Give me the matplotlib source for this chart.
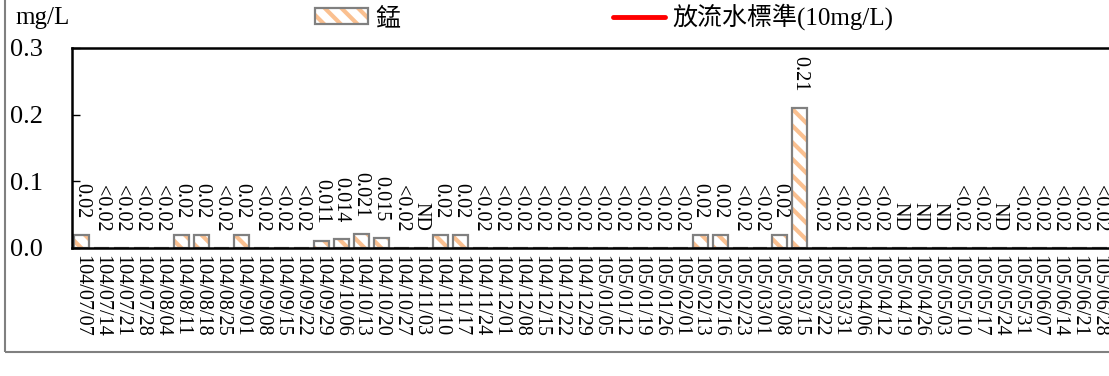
import numpy as np
import matplotlib
matplotlib.use("Agg")
import matplotlib.pyplot as plt
from matplotlib.patches import Rectangle
from matplotlib.legend_handler import HandlerTuple

plt.rcParams['font.family'] = ['Liberation Serif', 'Noto Sans CJK TC']
plt.rcParams['hatch.linewidth'] = 3.0

# 資料
dates = ["104/07/07", "104/07/14", "104/07/21", "104/07/28", "104/08/04", "104/08/11",
         "104/08/18", "104/08/25", "104/09/01", "104/09/08", "104/09/15", "104/09/22",
         "104/09/29", "104/10/06", "104/10/13", "104/10/20", "104/10/27", "104/11/03",
         "104/11/10", "104/11/17", "104/11/24", "104/12/01", "104/12/08", "104/12/15",
         "104/12/22", "104/12/29", "105/01/05", "105/01/12", "105/01/19", "105/01/26",
         "105/02/01", "105/02/13", "105/02/16", "105/02/23", "105/03/01", "105/03/08",
         "105/03/15", "105/03/22", "105/03/31", "105/04/06", "105/04/12", "105/04/19",
         "105/04/26", "105/05/03", "105/05/10", "105/05/17", "105/05/24", "105/05/31",
         "105/06/07", "105/06/14", "105/06/21", "105/06/28"]
labels = ["0.02", "<0.02", "<0.02", "<0.02", "<0.02", "0.02",
          "0.02", "<0.02", "0.02", "<0.02", "<0.02", "<0.02",
          "0.011", "0.014", "0.021", "0.015", "<0.02", "ND",
          "0.02", "0.02", "<0.02", "<0.02", "<0.02", "<0.02",
          "<0.02", "<0.02", "<0.02", "<0.02", "<0.02", "<0.02",
          "<0.02", "0.02", "0.02", "<0.02", "<0.02", "0.02",
          "0.21", "<0.02", "<0.02", "<0.02", "<0.02", "ND",
          "ND", "ND", "<0.02", "<0.02", "ND", "<0.02",
          "<0.02", "<0.02", "<0.02", "<0.02"]
# <0.02 與 ND 不畫柱
values = [float(s) if s[0].isdigit() else 0.0 for s in labels]
standard = 10  # 放流水標準 mg/L

fig = plt.figure(figsize=(11.09, 3.76), dpi=100)
ax = fig.add_axes([72/1109, 1-248/376, 1-72/1109, 200/376])

x = np.arange(len(dates))
# 斜線填色 + 灰框
b1 = ax.bar(x, values, width=0.75, color='white', hatch='\\\\', edgecolor='#FAC090', linewidth=0)
b2 = ax.bar(x, values, width=0.75, color='none', edgecolor='#808080', linewidth=1.6)
line = ax.axhline(standard, color='red', linewidth=3.5, solid_capstyle='round')

for xi, v, s in zip(x, values, labels):
    ax.annotate(s, (xi, v), xytext=(0, 12), textcoords='offset points',
                rotation=-90, ha='center', va='bottom', fontsize=14.5)

ax.set_xlim(-0.5, len(dates) - 0.5)
ax.set_ylim(0, 0.3)
ax.set_yticks([0, 0.1, 0.2, 0.3])
ax.set_yticklabels(['0.0', '0.1', '0.2', '0.3'])
ax.set_xticks(x)
ax.set_xticklabels(dates, rotation=-90, fontsize=14.5)
ax.tick_params(axis='y', direction='in', length=6, width=1, pad=21, labelsize=19)
ax.tick_params(axis='x', length=0, pad=5)
for sp in ['left', 'bottom', 'top']:
    ax.spines[sp].set_linewidth(1.8)
    ax.spines[sp].set_color('black')
ax.spines['right'].set_visible(False)

fig.text(15/1109, 1-18/376, 'mg/L', fontsize=18, va='center', ha='left')

fig.legend([(b1[36], b2[36]), line], ['錳', '放流水標準(10mg/L)'],
           handler_map={tuple: HandlerTuple(ndivide=1, pad=0)},
           loc='center', bbox_to_anchor=(0.545, 1-17/376), ncol=2, frameon=False,
           fontsize=18, handlelength=2.1, handleheight=0.6, columnspacing=8.5,
           handletextpad=0.3, borderpad=0)

# 外框
fig.patches.append(Rectangle((4.5/1109, 1-352/376), 1.2, 1.0, transform=fig.transFigure,
                             fill=False, edgecolor='#808080', linewidth=1.5))

fig.savefig('out.png', dpi=100)
